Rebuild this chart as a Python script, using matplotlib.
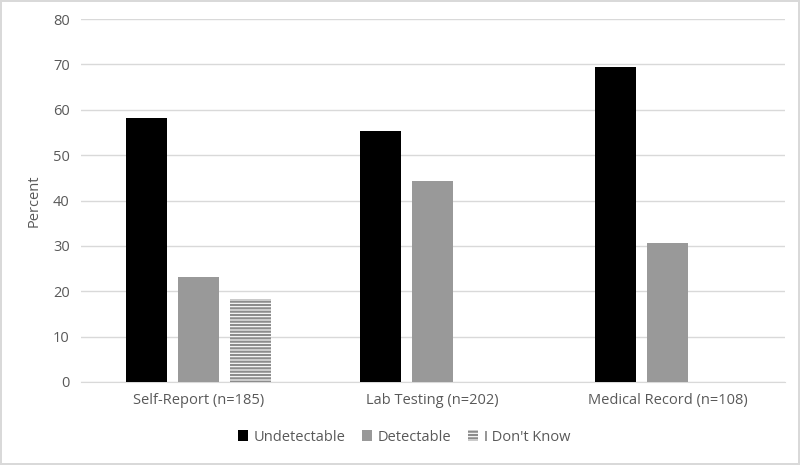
import numpy as np
import matplotlib.pyplot as plt

plt.rcParams['font.family'] = ['Open Sans', 'DejaVu Sans']
plt.rcParams['hatch.linewidth'] = 1.6

# Data
categories = ['Self-Report (n=185)', 'Lab Testing (n=202)', 'Medical Record (n=108)']
undetectable = [58.2, 55.3, 69.4]
detectable = [23.1, 44.3, 30.6]
dont_know = [18.3, 0, 0]

text_color = '#595959'
grid_color = '#d9d9d9'

fig = plt.figure(figsize=(8, 4.65), dpi=100, edgecolor=grid_color, linewidth=1.5)
ax = fig.add_axes([0.101, 0.1785, 0.880, 0.7805])

x = np.arange(len(categories))
w = 0.175
step = 0.222

ax.bar(x - step, undetectable, w, color='black', label='Undetectable', zorder=3)
ax.bar(x, detectable, w, color='#999999', label='Detectable', zorder=3)
ax.bar(x + step, dont_know, w, color='white', edgecolor='#8c8c8c', linewidth=0,
       hatch='-----', label="I Don't Know", zorder=3)

ax.set_xlim(-0.5, 2.5)
ax.set_ylim(0, 80)
ax.set_yticks(range(0, 81, 10))
ax.set_xticks(x)
ax.set_xticklabels(categories)
ax.yaxis.grid(True, color=grid_color, linewidth=1, zorder=0)
ax.tick_params(length=0, colors=text_color, labelsize=10.5, pad=8)
for s in ['top', 'right', 'left']:
    ax.spines[s].set_visible(False)
ax.spines['bottom'].set_color(grid_color)
ax.set_ylabel('Percent', color=text_color, fontsize=10.5, labelpad=8)

leg = fig.legend(loc='center', bbox_to_anchor=(0.505, 0.06), ncol=3, frameon=False,
                 fontsize=10.5, handlelength=0.7, handleheight=0.7,
                 handletextpad=0.4, columnspacing=1.1)
for t in leg.get_texts():
    t.set_color(text_color)

fig.savefig('out.png', dpi=100, edgecolor=fig.get_edgecolor())
